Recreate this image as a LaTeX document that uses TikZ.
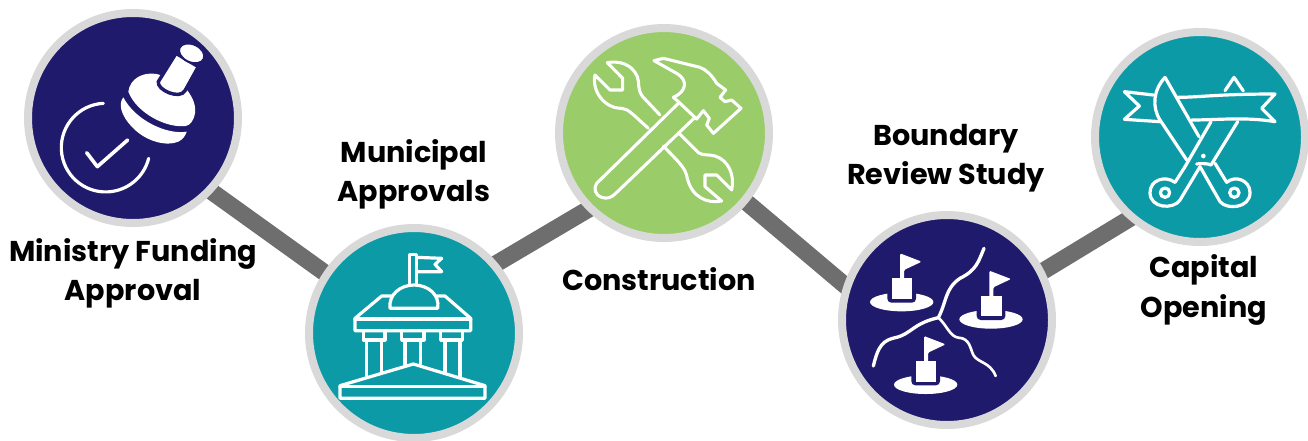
\documentclass[tikz,border=0pt]{standalone}
\usepackage{fontspec}
\setmainfont{Poppins}[BoldFont=* Bold]
\usetikzlibrary{backgrounds}
\definecolor{navy}{HTML}{201A6C}
\definecolor{teal}{HTML}{0C9BA6}
\definecolor{leaf}{HTML}{9ACC69}
\definecolor{ringgray}{HTML}{D9D9D9}
\definecolor{barGray}{HTML}{6E6E6E}
\tikzset{
  badge/.style={circle,draw=ringgray,line width=6pt,minimum size=157.5pt,inner sep=0pt},
  bar/.style={draw=barGray,line width=12.75pt,shorten <=-6pt,shorten >=-6pt},
  lab/.style={font=\fontsize{21.5pt}{29.5pt}\selectfont\bfseries,align=center,text=black,inner sep=0pt},
  ico/.style={draw=white,line width=2.2pt,line join=round,line cap=round},
  zoomed/.style={x=.25pt,y=-.25pt},
}
\begin{document}
\begin{tikzpicture}[x=.75pt,y=-.75pt]
\useasboundingbox (0,0) rectangle (1308,440);
\node[badge,fill=navy] (c1) at (133,118) {};
\node[badge,fill=teal] (c2) at (414,333) {};
\node[badge,fill=leaf] (c3) at (664,133) {};
\node[badge,fill=navy] (c4) at (947,320) {};
\node[badge,fill=teal] (c5) at (1200,137) {};
\begin{scope}[on background layer]
\draw[bar] (c1.-43) -- (c2.146);
\draw[bar] (c2.40) -- (c3.225);
\draw[bar] (c3.-40) -- (c4.161);
\draw[bar] (c4.27) -- (c5.229);
\end{scope}
\node[lab] (t1) at (133,273) {Ministry Funding\\Approval};
\node[lab] (t2) at (414,174) {Municipal\\Approvals};
\node[lab] (t3) at (659,279) {Construction};
\node[lab] (t4) at (946,158) {Boundary\\Review Study};
\node[lab] (t5) at (1204,290) {Capital\\Opening};

% stamp
\begin{scope}[shift={(20,0)},zoomed]
\fill[white] (325,275) .. controls (330,235) and (370,215) .. (410,222) -- (470,240) .. controls (510,270) and (530,310) .. (525,340) .. controls (520,365) and (510,375) .. (497,378) .. controls (440,385) and (350,340) .. (325,275) -- cycle;
\fill[white] (310,292) .. controls (295,310) and (300,345) .. (340,385) .. controls (380,425) and (440,440) .. (475,425) .. controls (490,418) and (497,405) .. (500,395) .. controls (440,405) and (345,360) .. (310,292) -- cycle;
\filldraw[fill=white,draw=navy,line width=2.6pt] (468,160) -- (535,200) -- (495,272) .. controls (480,300) and (410,270) .. (415,245) -- cycle;
\filldraw[fill=white,draw=navy,line width=1.5pt,shift={(515,160)},rotate=-25] (0,0) ellipse [x radius=40,y radius=27];
\draw[ico,line width=2.4pt] (250,310) arc[start angle=-93,end angle=-346,radius=133];
\draw[ico,line width=2.7pt] (200,458) -- (232,500) -- (323,420);
\end{scope}

% building
\begin{scope}[shift={(300,220)},zoomed,line join=round]
\tikzset{every path/.append style={ico,line width=2.4pt}}
\draw (328,190) -- (328,103) -- (350,103) -- (350,190);
\draw (350,112) -- (425,115) -- (405,133) -- (425,155) -- (350,155);
\draw (270,265) .. controls (265,225) and (300,195) .. (342,195) .. controls (385,195) and (420,225) .. (413,265) -- cycle;
\draw (275,228) -- (245,228) -- (165,295) -- (165,332) -- (512,332) -- (512,295) -- (435,228) -- (410,228);
\draw (165,297) -- (512,297);
\draw (190,332) rectangle (255,360);
\draw (305,332) rectangle (372,360);
\draw (422,332) rectangle (487,360);
\draw (200,360) -- (200,468); \draw (245,360) -- (245,455);
\draw (315,360) -- (315,432); \draw (362,360) -- (362,432);
\draw (435,360) -- (435,455); \draw (480,360) -- (480,470);
\draw (120,497) -- (340,432) -- (555,497) -- (555,535) -- (120,535) -- cycle;
\draw (120,499) -- (555,499);
\end{scope}

% tools
\begin{scope}[shift={(550,20)},zoomed]
\tikzset{every path/.append style={ico,line width=2.3pt}}
\draw (330,285) -- (278,230) .. controls (260,205) and (270,190) .. (262,170) .. controls (245,130) and (205,122) .. (172,128) -- (218,175) -- (218,210) -- (180,210) -- (135,165) .. controls (125,210) and (160,265) .. (215,265) .. controls (235,268) and (240,275) .. (295,325);
\draw (385,338) -- (445,398) .. controls (460,408) and (475,402) .. (495,408) .. controls (535,420) and (555,465) .. (545,510) -- (500,465) -- (465,465) -- (465,500) -- (515,543) .. controls (470,552) and (425,530) .. (412,475) .. controls (405,445) and (400,440) .. (340,378);
\draw (385,250) -- (140,490) .. controls (130,505) and (135,525) .. (155,532) .. controls (170,538) and (185,532) .. (195,522) -- (432,295);
\draw (370,232) -- (385,245) -- (440,297) -- (460,272) -- (478,295) -- (470,315) -- (490,340) -- (573,265) -- (545,240) -- (525,245) -- (510,232) -- (527,210) -- (500,190) .. controls (485,165) and (470,150) .. (450,142) -- (340,115) -- (312,122) -- (380,160) .. controls (415,180) and (410,215) .. (370,232);
\end{scope}

% map
\begin{scope}[shift={(830,205)},zoomed]
\foreach \dx/\dy in {0/0,268/52,72/248}{
\begin{scope}[shift={(\dx,\dy)}]
\fill[white] (215,291) ellipse [x radius=95,y radius=28];
\fill[navy,rounded corners=3pt] (172,250) rectangle (258,293);
\fill[white] (185,220) rectangle (247,282);
\fill[white,rounded corners=1pt] (210,145) -- (275,170) -- (222,195) -- (222,225) -- (210,225) -- cycle;
\end{scope}}
\draw[ico,line width=2.5pt] (130,483) .. controls (145,420) and (160,405) .. (200,397) .. controls (245,385) and (250,355) .. (325,338) .. controls (350,290) and (345,250) .. (390,220) .. controls (440,195) and (445,170) .. (462,130);
\draw[ico,line width=2pt] (325,338) .. controls (350,360) and (360,395) .. (385,398) .. controls (420,400) and (420,430) .. (430,450) .. controls (445,475) and (480,470) .. (497,513);
\end{scope}

% scissors
\begin{scope}[shift={(1085,20)},zoomed]
\tikzset{every path/.append style={ico,line width=2.4pt}}
\draw (420,212) -- (447,172) -- (475,213);
\draw (205,225) -- (118,215) -- (163,258) -- (118,298) -- (225,305);
\draw (280,232) .. controls (340,232) and (400,222) .. (570,222) -- (530,265) -- (570,305) .. controls (480,290) and (400,300) .. (320,300);
\draw (240,172) .. controls (205,210) and (200,260) .. (225,300) -- (305,420);
\draw (240,172) -- (342,350);
\draw (378,305) -- (300,440) -- (270,487);
\draw (458,305) -- (378,435) .. controls (370,430) and (345,430) .. (335,432);
\draw (345,440) -- (285,540) .. controls (265,570) and (195,565) .. (195,518) .. controls (195,480) and (240,465) .. (270,487);
\draw (345,440) -- (405,545) .. controls (425,570) and (495,565) .. (495,518) .. controls (495,480) and (450,465) .. (425,487) -- (390,430);
\draw (240,518) circle [radius=14];
\draw (448,518) circle [radius=14];
\fill[white,draw=none] (355,408) circle [radius=7];
\end{scope}
\end{tikzpicture}
\end{document}
